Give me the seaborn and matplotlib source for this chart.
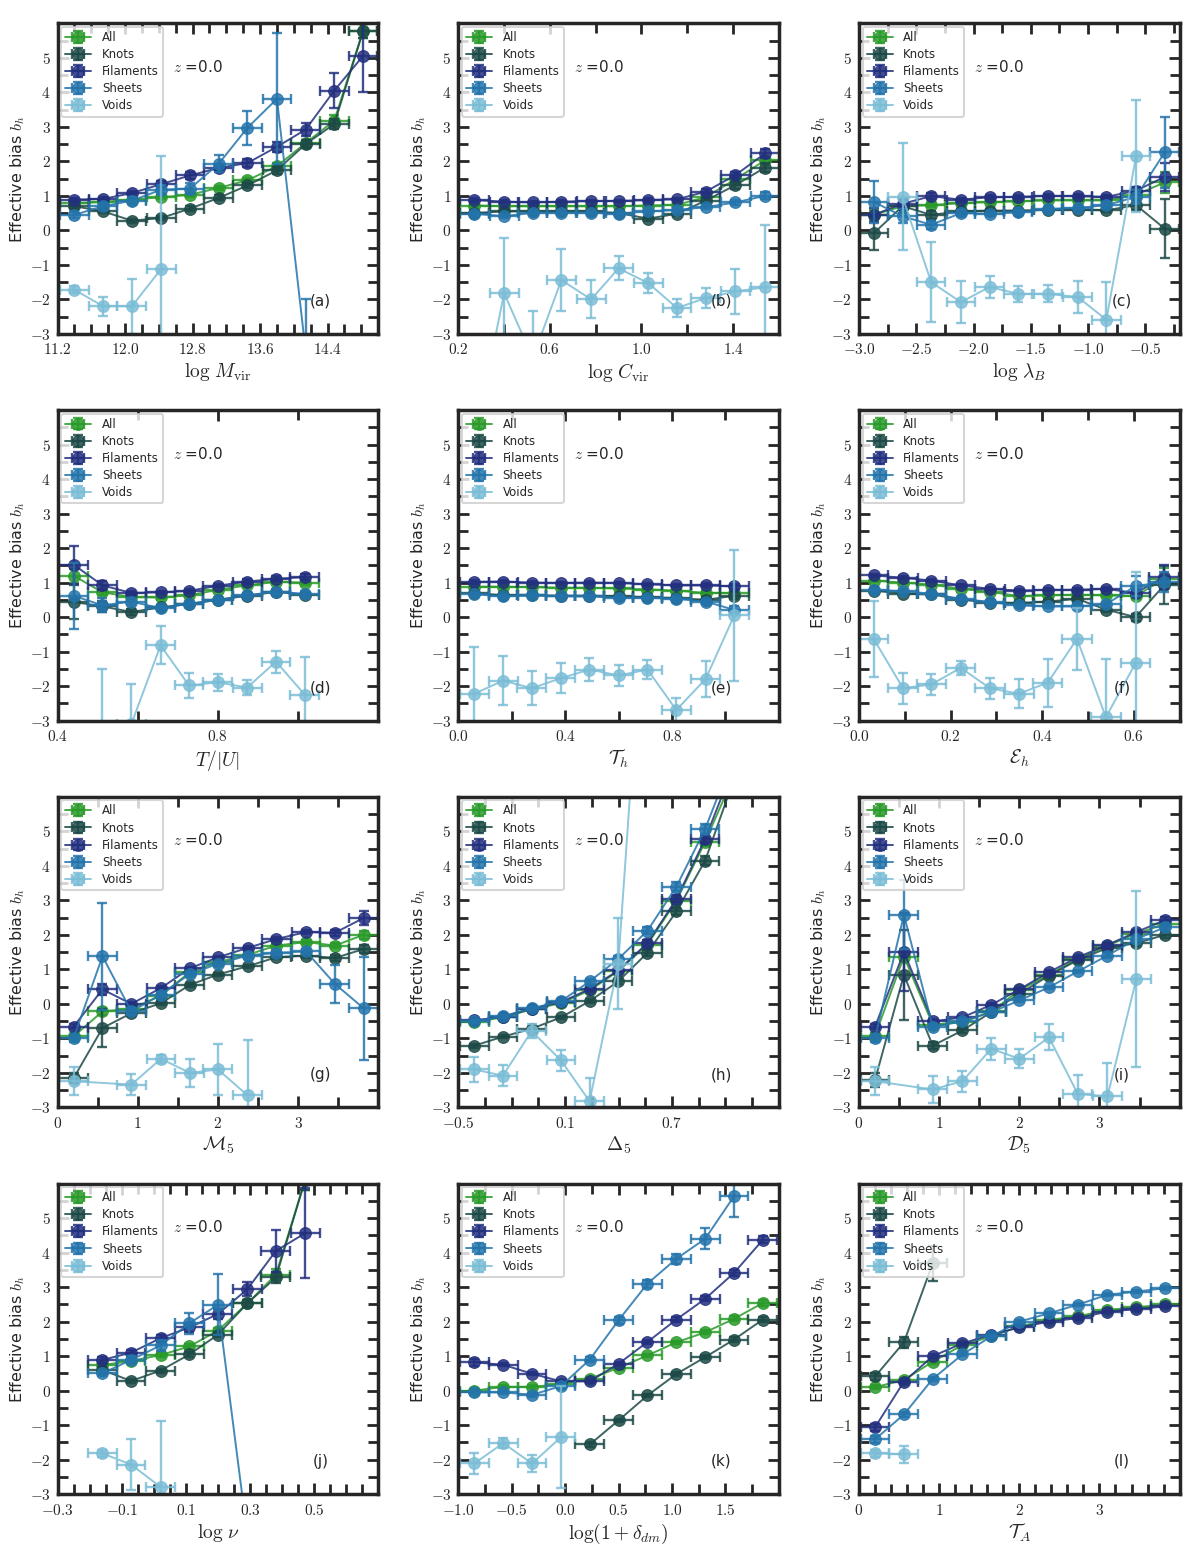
import numpy as np
import seaborn as sns
import matplotlib
matplotlib.use("Agg")
import matplotlib.pyplot as plt
from matplotlib.ticker import MultipleLocator

# ---- data (effective bias per bin, z = 0) ----
NAMES = ["All", "Knots", "Filaments", "Sheets", "Voids"]
COLORS = ["#2a9a2a", "#1d4a47", "#23307f", "#2474ab", "#7bbdd6"]

# (a) log M_vir
a_x = [11.40, 11.74, 12.08, 12.43, 12.77, 13.11, 13.45, 13.80, 14.14, 14.48, 14.82]
a_all = [0.79, 0.82, 0.89, 0.96, 1.03, 1.23, 1.45, 1.86, 2.53, 3.18, 5.77]
a_all_e = [0.06, 0.05, 0.05, 0.05, 0.05, 0.06, 0.07, 0.10, 0.10, 0.15, 0.20]
a_knots = [0.70, 0.55, 0.28, 0.36, 0.63, 0.94, 1.30, 1.74, 2.50, 3.08, 5.77]
a_knots_e = [0.08, 0.06, 0.06, 0.06, 0.07, 0.07, 0.08, 0.10, 0.12, 0.15, 0.20]
a_fil = [0.89, 0.91, 1.08, 1.34, 1.59, 1.81, 1.95, 2.42, 2.92, 4.05, 5.05]
a_fil_e = [0.06, 0.06, 0.07, 0.08, 0.09, 0.10, 0.12, 0.15, 0.20, 0.50, 1.05]
a_sheets = [0.45, 0.70, 0.86, 1.18, 1.21, 1.93, 2.97, 3.81, -3.5]
a_sheets_e = [0.08, 0.10, 0.10, 0.12, 0.15, 0.25, 0.50, 1.90, 1.50]
a_voids = [-1.72, -2.20, -2.20, -1.11]
a_voids_e = [0.10, 0.28, 0.80, 3.25]

# (b) log C_vir
b_x = [0.27, 0.40, 0.525, 0.65, 0.78, 0.90, 1.03, 1.155, 1.28, 1.41, 1.54]
b_all = [0.72, 0.70, 0.70, 0.70, 0.70, 0.70, 0.72, 0.74, 0.96, 1.48, 2.03]
b_all_e = [0.05, 0.04, 0.04, 0.04, 0.04, 0.04, 0.04, 0.05, 0.06, 0.08, 0.10]
b_knots = [0.50, 0.55, 0.55, 0.55, 0.55, 0.50, 0.34, 0.48, 0.86, 1.31, 1.82]
b_knots_e = [0.08, 0.06, 0.05, 0.05, 0.05, 0.05, 0.06, 0.07, 0.08, 0.10, 0.12]
b_fil = [0.88, 0.83, 0.81, 0.83, 0.85, 0.85, 0.88, 0.90, 1.12, 1.60, 2.23]
b_fil_e = [0.06, 0.05, 0.04, 0.04, 0.04, 0.04, 0.05, 0.05, 0.07, 0.09, 0.12]
b_sheets = [0.48, 0.41, 0.51, 0.51, 0.51, 0.48, 0.55, 0.59, 0.67, 0.81, 1.00]
b_sheets_e = [0.06, 0.05, 0.04, 0.04, 0.04, 0.04, 0.05, 0.05, 0.06, 0.07, 0.10]
b_voids = [-6.1, -1.82, -3.7, -1.44, -2.00, -1.10, -1.53, -2.25, -1.96, -1.77, -1.65]
b_voids_e = [2.0, 1.60, 1.35, 0.90, 0.55, 0.35, 0.28, 0.25, 0.30, 0.65, 1.80]

# (c) log lambda_B
c_x = [-2.87, -2.62, -2.37, -2.11, -1.86, -1.61, -1.35, -1.09, -0.84, -0.58, -0.33]
c_all = [0.45, 0.70, 0.73, 0.79, 0.82, 0.84, 0.87, 0.87, 0.87, 1.03, 1.39]
c_all_e = [0.15, 0.10, 0.06, 0.05, 0.05, 0.05, 0.05, 0.05, 0.06, 0.10, 0.30]
c_knots = [-0.08, 0.70, 0.45, 0.55, 0.57, 0.57, 0.60, 0.60, 0.58, 0.73, 0.05]
c_knots_e = [0.48, 0.20, 0.12, 0.08, 0.06, 0.05, 0.05, 0.05, 0.06, 0.15, 0.85]
c_fil = [0.45, 0.77, 0.99, 0.89, 0.96, 0.97, 1.00, 0.99, 0.97, 1.15, 1.55]
c_fil_e = [0.20, 0.12, 0.08, 0.06, 0.05, 0.05, 0.05, 0.05, 0.06, 0.12, 0.40]
c_sheets = [0.82, 0.41, 0.16, 0.50, 0.48, 0.52, 0.62, 0.65, 0.73, 0.97, 2.26]
c_sheets_e = [0.60, 0.20, 0.12, 0.08, 0.06, 0.06, 0.06, 0.06, 0.08, 0.20, 1.02]
c_voids = [None, 0.97, -1.50, -2.08, -1.64, -1.84, -1.84, -1.93, -2.59, 2.15]
c_voids_e = [None, 1.55, 1.15, 0.60, 0.33, 0.23, 0.25, 0.45, 1.08, 1.62]

# (d) T/|U|
d_x = [0.44, 0.512, 0.584, 0.657, 0.728, 0.80, 0.873, 0.945, 1.017]
d_all = [1.20, 0.72, 0.58, 0.57, 0.63, 0.79, 0.92, 1.02, 1.00]
d_all_e = [0.20, 0.08, 0.05, 0.05, 0.05, 0.05, 0.05, 0.06, 0.07]
d_knots = [0.44, 0.31, 0.15, 0.28, 0.38, 0.50, 0.62, 0.73, 0.65]
d_knots_e = [0.50, 0.15, 0.08, 0.06, 0.05, 0.05, 0.06, 0.07, 0.08]
d_fil = [1.52, 0.92, 0.70, 0.72, 0.76, 0.91, 1.03, 1.11, 1.16]
d_fil_e = [0.55, 0.12, 0.06, 0.05, 0.05, 0.05, 0.06, 0.07, 0.08]
d_sheets = [0.62, 0.34, 0.45, 0.26, 0.39, 0.50, 0.63, 0.74, 0.67]
d_sheets_e = [0.95, 0.20, 0.10, 0.06, 0.05, 0.05, 0.06, 0.07, 0.08]
d_voids = [None, -3.6, -3.1, -0.82, -1.98, -1.89, -2.04, -1.29, -2.25]
d_voids_e = [None, 2.10, 1.15, 0.55, 0.35, 0.25, 0.22, 0.32, 1.10]

# (e) T_h
e_x = [0.06, 0.168, 0.275, 0.384, 0.491, 0.60, 0.708, 0.816, 0.926, 1.033]
e_all = [0.88, 0.88, 0.87, 0.85, 0.85, 0.83, 0.80, 0.77, 0.70, 0.70]
e_all_e = [0.05, 0.04, 0.04, 0.04, 0.04, 0.04, 0.04, 0.05, 0.06, 0.08]
e_knots = [0.70, 0.63, 0.63, 0.62, 0.62, 0.60, 0.58, 0.55, 0.50, 0.62]
e_knots_e = [0.06, 0.05, 0.05, 0.05, 0.05, 0.05, 0.05, 0.06, 0.07, 0.10]
e_fil = [1.02, 1.03, 1.00, 0.99, 1.00, 0.99, 0.95, 0.92, 0.92, 0.89]
e_fil_e = [0.05, 0.04, 0.04, 0.04, 0.04, 0.04, 0.04, 0.05, 0.06, 0.08]
e_sheets = [0.66, 0.60, 0.63, 0.61, 0.60, 0.56, 0.56, 0.53, 0.45, 0.21]
e_sheets_e = [0.05, 0.04, 0.04, 0.04, 0.04, 0.04, 0.04, 0.05, 0.06, 0.10]
e_voids = [-2.22, -1.84, -2.06, -1.77, -1.52, -1.69, -1.52, -2.69, -1.79, 0.05]
e_voids_e = [1.35, 0.70, 0.50, 0.43, 0.33, 0.30, 0.28, 0.35, 0.52, 1.90]

# (f) E_h
f_x = [0.032, 0.096, 0.158, 0.222, 0.286, 0.349, 0.412, 0.476, 0.539, 0.604, 0.666]
f_all = [1.06, 1.00, 0.94, 0.82, 0.73, 0.61, 0.63, 0.65, 0.63, 0.61, 1.11]
f_all_e = [0.05, 0.04, 0.04, 0.04, 0.04, 0.04, 0.04, 0.05, 0.06, 0.08, 0.30]
f_knots = [0.77, 0.68, 0.66, 0.51, 0.42, 0.41, 0.45, 0.53, 0.22, 0.00, 0.92]
f_knots_e = [0.06, 0.05, 0.05, 0.05, 0.05, 0.05, 0.05, 0.06, 0.08, 0.10, 0.55]
f_fil = [1.21, 1.14, 1.06, 0.92, 0.82, 0.77, 0.79, 0.79, 0.82, 0.70, 1.16]
f_fil_e = [0.05, 0.04, 0.04, 0.04, 0.04, 0.04, 0.04, 0.05, 0.06, 0.10, 0.35]
f_sheets = [0.79, 0.75, 0.68, 0.53, 0.44, 0.34, 0.31, 0.31, 0.37, 0.90, 1.02]
f_sheets_e = [0.05, 0.04, 0.04, 0.04, 0.04, 0.04, 0.04, 0.05, 0.08, 0.30, 0.30]
f_voids = [-0.63, -2.06, -1.95, -1.47, -2.06, -2.22, -1.90, -0.63, -2.90, -1.33]
f_voids_e = [1.10, 0.45, 0.30, 0.20, 0.30, 0.42, 0.70, 0.90, 1.70, 2.63]

# (g) M_5
g_x = [0.20, 0.56, 0.92, 1.29, 1.65, 2.00, 2.37, 2.73, 3.10, 3.46, 3.82]
g_all = [-0.94, -0.22, -0.14, 0.24, 0.92, 1.21, 1.42, 1.69, 1.79, 1.69, 2.00]
g_all_e = [0.08, 0.10, 0.06, 0.05, 0.05, 0.05, 0.05, 0.05, 0.06, 0.08, 0.12]
g_knots = [-2.15, -0.70, -0.27, 0.02, 0.55, 0.85, 1.09, 1.35, 1.40, 1.33, 1.59]
g_knots_e = [0.15, 0.55, 0.08, 0.06, 0.05, 0.05, 0.05, 0.05, 0.06, 0.08, 0.12]
g_fil = [-0.66, 0.42, 0.00, 0.46, 1.03, 1.35, 1.62, 1.88, 2.08, 2.06, 2.49]
g_fil_e = [0.08, 0.15, 0.06, 0.05, 0.05, 0.05, 0.05, 0.05, 0.06, 0.08, 0.20]
g_sheets = [-0.99, 1.38, -0.22, 0.27, 0.87, 1.16, 1.40, 1.48, 1.52, 0.58, -0.13]
g_sheets_e = [0.10, 1.55, 0.10, 0.08, 0.06, 0.06, 0.06, 0.06, 0.08, 0.55, 1.50]
g_voids = [-2.24, None, -2.34, -1.59, -2.00, -1.90, -2.65]
g_voids_e = [0.40, None, 0.30, 0.12, 0.40, 0.75, 1.60]

# (h) Delta_5
h_x = [-0.41, -0.25, -0.088, 0.077, 0.237, 0.398, 0.562, 0.725, 0.886, 1.047]
h_all = [-0.53, -0.39, -0.16, 0.02, 0.39, 0.95, 1.72, 2.99, 4.70, 6.6]
h_all_e = [0.05, 0.04, 0.04, 0.04, 0.05, 0.06, 0.08, 0.10, 0.12, 0.20]
h_knots = [-1.21, -0.95, -0.72, -0.39, 0.08, 0.65, 1.48, 2.68, 4.15, 6.5]
h_knots_e = [0.06, 0.05, 0.05, 0.05, 0.05, 0.06, 0.08, 0.10, 0.12, 0.20]
h_fil = [-0.48, -0.37, -0.14, 0.05, 0.43, 0.97, 1.76, 3.04, 4.78, 6.9]
h_fil_e = [0.05, 0.04, 0.04, 0.04, 0.05, 0.06, 0.08, 0.10, 0.12, 0.20]
h_sheets = [-0.51, -0.36, -0.13, 0.08, 0.65, 1.30, 2.12, 3.40, 5.07, 7.2]
h_sheets_e = [0.05, 0.04, 0.04, 0.05, 0.06, 0.08, 0.10, 0.12, 0.15, 0.25]
h_voids = [-1.90, -2.08, -0.79, -1.64, -2.82, 1.16, 13.3]
h_voids_e = [0.35, 0.30, 0.20, 0.30, 0.67, 1.32, 3.0]

# (i) D_5
i_x = [0.20, 0.56, 0.92, 1.29, 1.65, 2.00, 2.37, 2.73, 3.10, 3.46, 3.82]
i_all = [-0.92, 1.37, -0.60, -0.53, -0.22, 0.39, 0.85, 1.30, 1.69, 2.03, 2.32]
i_all_e = [0.08, 0.12, 0.06, 0.05, 0.05, 0.05, 0.05, 0.05, 0.06, 0.07, 0.08]
i_knots = [-2.20, 0.84, -1.21, -0.77, -0.24, 0.29, 0.82, 1.27, 1.62, 1.76, 2.00]
i_knots_e = [0.20, 1.30, 0.10, 0.06, 0.05, 0.05, 0.05, 0.05, 0.06, 0.07, 0.08]
i_fil = [-0.66, 1.50, -0.51, -0.39, -0.03, 0.42, 0.92, 1.35, 1.71, 2.08, 2.43]
i_fil_e = [0.08, 1.12, 0.06, 0.05, 0.05, 0.05, 0.05, 0.05, 0.06, 0.07, 0.08]
i_sheets = [-0.99, 2.58, -0.66, -0.51, -0.24, 0.10, 0.48, 0.94, 1.40, 1.88, 2.22]
i_sheets_e = [0.10, 1.00, 0.08, 0.06, 0.05, 0.05, 0.05, 0.05, 0.06, 0.07, 0.08]
i_voids = [-2.24, None, -2.48, -2.24, -1.30, -1.59, -0.97, -2.61, -2.68, 0.72]
i_voids_e = [0.40, None, 0.38, 0.30, 0.32, 0.28, 0.38, 0.55, 0.96, 2.55]

# (j) log nu
j_x = [-0.16, -0.071, 0.021, 0.111, 0.20, 0.292, 0.381, 0.472]
j_all = [0.74, 0.86, 1.03, 1.28, 1.74, 2.53, 3.36, 6.1]
j_all_e = [0.06, 0.05, 0.05, 0.06, 0.08, 0.10, 0.15, 0.30]
j_knots = [0.60, 0.28, 0.58, 1.05, 1.62, 2.53, 3.28, 6.1]
j_knots_e = [0.08, 0.06, 0.06, 0.07, 0.08, 0.10, 0.15, 0.30]
j_fil = [0.89, 1.10, 1.52, 1.83, 2.22, 2.94, 4.05, 4.56]
j_fil_e = [0.08, 0.08, 0.10, 0.12, 0.15, 0.20, 0.60, 1.30]
j_sheets = [0.50, 0.89, 1.31, 1.95, 2.49, -4.2]
j_sheets_e = [0.08, 0.10, 0.15, 0.30, 0.88, 1.00]
j_voids = [-1.82, -2.14, -2.79]
j_voids_e = [0.10, 0.75, 1.90]

# (k) log(1 + delta_dm)
k_x = [-0.85, -0.58, -0.31, -0.04, 0.23, 0.50, 0.77, 1.04, 1.31, 1.58, 1.85]
k_all = [0.00, 0.11, 0.11, 0.19, 0.35, 0.66, 1.02, 1.40, 1.69, 2.08, 2.54]
k_all_e = [0.04, 0.04, 0.04, 0.04, 0.04, 0.05, 0.05, 0.05, 0.06, 0.07, 0.08]
k_knots = [None, None, None, None, -1.56, -0.86, -0.14, 0.48, 0.97, 1.48, 2.06]
k_knots_e = [None, None, None, None, 0.06, 0.05, 0.05, 0.05, 0.06, 0.07, 0.08]
k_fil = [0.82, 0.75, 0.49, 0.27, 0.27, 0.78, 1.41, 2.06, 2.66, 3.41, 4.37]
k_fil_e = [0.10, 0.05, 0.05, 0.05, 0.05, 0.05, 0.06, 0.06, 0.07, 0.08, 0.10]
k_sheets = [-0.05, -0.05, -0.12, 0.13, 0.90, 2.04, 3.10, 3.82, 4.40, 5.63]
k_sheets_e = [0.05, 0.05, 0.05, 0.06, 0.08, 0.10, 0.12, 0.15, 0.30, 0.60]
k_voids = [-2.11, -1.52, -2.11, -1.35]
k_voids_e = [0.30, 0.15, 0.25, 1.48]

# (l) T_A
l_x = [0.20, 0.56, 0.92, 1.29, 1.65, 2.00, 2.37, 2.73, 3.10, 3.46, 3.82]
l_all = [0.10, 0.31, 0.84, 1.32, 1.57, 1.86, 2.05, 2.15, 2.34, 2.41, 2.50]
l_all_e = [0.05, 0.05, 0.06, 0.05, 0.05, 0.05, 0.05, 0.05, 0.05, 0.05, 0.06]
l_knots = [0.41, 1.40, 3.69]
l_knots_e = [0.10, 0.15, 0.50]
l_fil = [-1.06, 0.26, 1.00, 1.37, 1.62, 1.83, 2.00, 2.10, 2.29, 2.36, 2.44]
l_fil_e = [0.10, 0.06, 0.06, 0.05, 0.05, 0.05, 0.05, 0.05, 0.05, 0.05, 0.06]
l_sheets = [-1.41, -0.69, 0.34, 1.05, 1.57, 2.00, 2.24, 2.49, 2.78, 2.87, 2.97]
l_sheets_e = [0.10, 0.08, 0.06, 0.06, 0.05, 0.05, 0.05, 0.05, 0.05, 0.05, 0.06]
l_voids = [-1.82, -1.84]
l_voids_e = [0.10, 0.25]

# half bin widths (x error bars)
XERR = [0.17, 0.063, 0.125, 0.036, 0.054, 0.032, 0.18, 0.08, 0.18, 0.045, 0.135, 0.18]

XLABELS = [r"$\log\,M_{\rm vir}$", r"$\log\,C_{\rm vir}$", r"$\log\,\lambda_B$",
           r"$T/|U|$", r"$\mathcal{T}_h$", r"$\mathcal{E}_h$",
           r"$\mathcal{M}_5$", r"$\Delta_5$", r"$\mathcal{D}_5$",
           r"$\log\,\nu$", r"$\log(1+\delta_{dm})$", r"$\mathcal{T}_A$"]
PANEL_TAGS = ["(a)", "(b)", "(c)", "(d)", "(e)", "(f)",
              "(g)", "(h)", "(i)", "(j)", "(k)", "(l)"]
XLIMS = [(11.2, 15.0), (0.2, 1.6), (-3.0, -0.2), (0.4, 1.2), (0.0, 1.2), (0.0, 0.7),
         (0.0, 4.0), (-0.5, 1.3), (0.0, 4.0), (-0.3, 0.7), (-1.0, 2.0), (0.0, 4.0)]
XTICKS = [[11.2, 12.0, 12.8, 13.6, 14.4], [0.2, 0.6, 1.0, 1.4],
          [-3.0, -2.5, -2.0, -1.5, -1.0, -0.5], [0.4, 0.8], [0.0, 0.4, 0.8],
          [0.0, 0.2, 0.4, 0.6], [0, 1, 2, 3], [-0.5, 0.1, 0.7], [0, 1, 2, 3],
          [-0.3, -0.1, 0.1, 0.3, 0.5], [-1.0, -0.5, 0.0, 0.5, 1.0, 1.5], [0, 1, 2, 3]]
XDEC = [1, 1, 1, 1, 1, 1, 0, 1, 0, 1, 1, 0]
XMINOR = [(0.2, 0.0), (0.2, 0.0), (0.25, 0.0), (0.2, 0.0), (0.2, 0.0), (0.1, 0.0),
          (0.5, 0.0), (0.15, 0.1), (0.5, 0.0), (0.05, 0.0), (0.25, 0.0), (0.2, 0.0)]

g_ns = globals()
panels = []
for p in "abcdefghijkl":
    ys = [g_ns[f"{p}_all"], g_ns[f"{p}_knots"], g_ns[f"{p}_fil"], g_ns[f"{p}_sheets"], g_ns[f"{p}_voids"]]
    es = [g_ns[f"{p}_all_e"], g_ns[f"{p}_knots_e"], g_ns[f"{p}_fil_e"], g_ns[f"{p}_sheets_e"], g_ns[f"{p}_voids_e"]]
    panels.append((g_ns[f"{p}_x"], ys, es))

# ---- style ----
sns.set_style("ticks")
plt.rcParams["font.family"] = ["DejaVu Sans"]
plt.rcParams["mathtext.fontset"] = "cm"
plt.rcParams["axes.linewidth"] = 2.5

fig, axes = plt.subplots(4, 3, figsize=(12, 15.5), dpi=100)
fig.subplots_adjust(left=0.048, right=0.983, bottom=0.036, top=0.985, wspace=0.25, hspace=0.245)

for idx, ax in enumerate(axes.flat):
    x, ys, es = panels[idx]
    handles = []
    for name, y, e, col in zip(NAMES, ys, es, COLORS):
        pts = [(xi, yi, ei) for xi, yi, ei in zip(x, y, e) if yi is not None]
        xs = [q[0] for q in pts]
        yv = [q[1] for q in pts]
        ev = [q[2] for q in pts]
        sns.lineplot(x=xs, y=yv, ax=ax, sort=False, estimator=None, color=col,
                     marker="o", markersize=8.5, markeredgecolor=col, linewidth=1.4,
                     alpha=0.85, legend=False)
        ln = ax.lines[-1]
        eb = ax.errorbar(xs, yv, yerr=ev, xerr=XERR[idx], fmt="none", ecolor=col,
                         elinewidth=1.7, capsize=3.5, capthick=1.7, alpha=0.85)
        handles.append((ln, eb))

    ax.set_xlim(*XLIMS[idx])
    ax.set_ylim(-3, 6)
    ax.set_yticks(range(-3, 6))
    ax.set_yticklabels([f"${v}$" for v in range(-3, 6)], fontsize=11)
    ax.yaxis.set_minor_locator(MultipleLocator(0.5))
    ax.set_xticks(XTICKS[idx])
    ax.set_xticklabels([f"${v:.{XDEC[idx]}f}$" for v in XTICKS[idx]], fontsize=11)
    base, off = XMINOR[idx]
    ax.xaxis.set_minor_locator(MultipleLocator(base, offset=off))
    ax.tick_params(which="both", direction="in", top=True, right=True, width=2)
    ax.tick_params(which="major", length=8)
    ax.tick_params(which="minor", length=7)
    ax.tick_params(axis="x", which="major", pad=6)
    ax.tick_params(axis="y", which="major", pad=5)

    ax.set_xlabel(XLABELS[idx], fontsize=14, labelpad=3)
    ax.set_ylabel(r"Effective bias $b_h$", fontsize=11.5, labelpad=2)
    ax.text(0.36, 0.86, r"$z$ =0.0", transform=ax.transAxes, fontsize=11,
            ha="left", va="center")
    ax.text(0.82, 0.106, PANEL_TAGS[idx], transform=ax.transAxes, fontsize=11,
            ha="center", va="center")
    leg = ax.legend(handles, NAMES, loc="upper left", fontsize=8.5, frameon=True,
                    borderaxespad=0.3, handlelength=2.2, handletextpad=0.9,
                    labelspacing=0.35, borderpad=0.35)
    leg.get_frame().set_edgecolor("#cccccc")
    leg.get_frame().set_linewidth(1.5)

fig.savefig("out.png", dpi=100)
